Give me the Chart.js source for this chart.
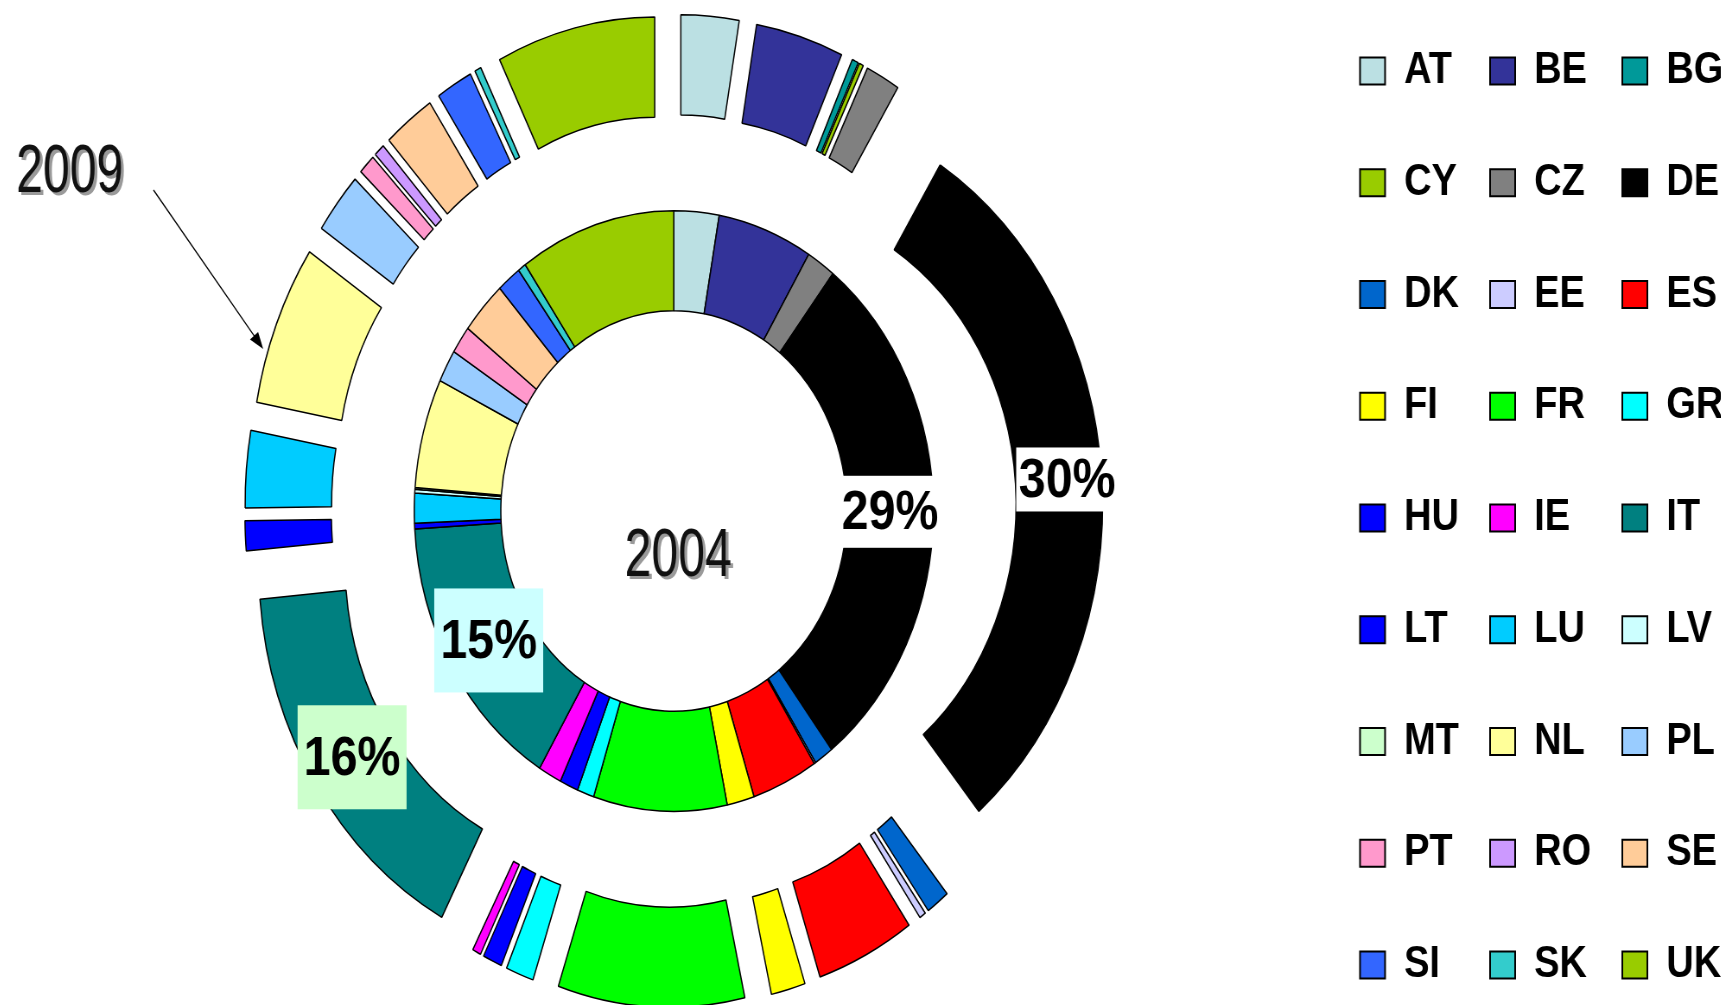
<!DOCTYPE html>
<html>
<head>
<meta charset="utf-8">
<title>2004 / 2009 shares</title>
<script src="https://cdn.jsdelivr.net/npm/chart.js@4.4.0/dist/chart.umd.min.js"></script>
<style>
  html, body { margin: 0; padding: 0; background: #fff; overflow: hidden; }
  #wrap { position: relative; width: 1721px; height: 1005px; overflow: hidden; background: #fff; }
  #chart { position: absolute; left: 4px; top: 0; }
</style>
</head>
<body>
<div id="wrap">
  <!-- the original picture is squashed horizontally, so the canvas is too (2000 -> 1728 px) -->
  <canvas id="chart" width="2000" height="1095" style="width:1728px;height:1095px"></canvas>
</div>
<script>
var countries = ['AT','BE','BG','CY','CZ','DE','DK','EE','ES','FI','FR','GR','HU','IE',
                 'IT','LT','LU','LV','MT','NL','PL','PT','RO','SE','SI','SK','UK'];
var colors = ['#BBE0E3','#333399','#009999','#99CC00','#808080','#000000','#0066CC','#CCCCFF',
              '#FF0000','#FFFF00','#00FF00','#00FFFF','#0000FF','#FF00FF','#008080','#0000FF',
              '#00CCFF','#CCFFFF','#CCFFCC','#FFFF99','#99CCFF','#FF99CC','#CC99FF','#FFCC99',
              '#3366FF','#33CCCC','#99CC00'];
// shares in %
var share2004 = [2.8, 5.9, 0, 0, 1.8, 29.1, 1.2, 0.1, 4.1, 1.7, 8.3, 1.05, 1.15, 1.45,
                 15.4, 0.3, 1.6, 0.2, 0.1, 5.9, 1.75, 1.5, 0, 2.9, 1.5, 0.5, 9.7];
var share2009 = [2.7, 4.1, 0.3, 0.2, 1.6, 30, 1.1, 0.3, 4.6, 1.6, 8.7, 1.3, 0.9, 0.4,
                 15.8, 1.2, 3.1, 0, 0, 6.5, 2.5, 0.8, 0.5, 2.4, 1.7, 0.3, 7.4];
var years = ['2009', '2004'];
var labelled = ['DE', 'IT'];

// label box look, per ring
var boxStyle = {
  '2009': { DE: { fill: '#FFFFFF', padX: 3, padY: 4, dr: 10 }, IT: { fill: '#CCFFCC', padX: 7, padY: 24, dr: 0 } },
  '2004': { DE: { fill: '#FFFFFF', padX: 3, padY: 8, dr: 0 },  IT: { fill: '#CCFFFF', padX: 7, padY: 24, dr: 0 } }
};

var explode = 384;   // arc offset of the outer ring (chart.js moves arcs by offset/4)

// legend reads row by row, chart.js fills columns -> reorder
function gridKey(i) { return (i % 3) * 9 + Math.floor(i / 3); }

// chart.js v4 also grows small exploded arcs; undo that so every slice moves the same way
var evenExplode = {
  id: 'evenExplode',
  afterDatasetUpdate: function (chart, args) {
    if (args.index !== 0) return;
    args.meta.data.forEach(function (arc) {
      var t = (arc.options.offset || 0) / 4;
      var ro = t * (1 - Math.sin(Math.min(Math.PI, arc.circumference)));
      var d = ro / (2 * Math.PI * arc.outerRadius);
      arc.innerRadius -= ro;
      arc.outerRadius -= ro;
      arc.startAngle -= d;
      arc.endAngle += d;
    });
  }
};

function narrowText(ctx, text, x, y, size) {
  ctx.save();
  ctx.translate(x, y);
  ctx.scale(0.82, 1);
  ctx.font = size + "px 'Liberation Sans', Arial, sans-serif";
  ctx.textAlign = 'center';
  ctx.textBaseline = 'middle';
  ctx.fillStyle = '#9a9a9a';
  ctx.fillText(text, 4, 3);
  ctx.fillStyle = '#111';
  ctx.fillText(text, 0, 0);
  ctx.restore();
}

var annotate = {
  id: 'annotate',
  afterDraw: function (chart) {
    var ctx = chart.ctx;
    var first = chart.getDatasetMeta(1).data[0];
    var cx = first.x, cy = first.y;

    // percentage labels on DE and IT
    [0, 1].forEach(function (ds) {
      var meta = chart.getDatasetMeta(ds);
      var ctrl = meta.controller;
      var data = chart.data.datasets[ds].data;
      var total = data.reduce(function (a, b) { return a + b; }, 0);
      var push = ds === 0 ? explode / 4 : 0;
      var rMid = (ctrl.innerRadius + ctrl.outerRadius) / 2 + push;
      labelled.forEach(function (c) {
        var i = countries.indexOf(c);
        var arc = meta.data[i];
        var st = boxStyle[years[ds]][c];
        var mid = (arc.startAngle + arc.endAngle) / 2;
        var x = cx + Math.cos(mid) * (rMid + st.dr);
        var y = cy + Math.sin(mid) * (rMid + st.dr);
        var txt = Math.round(data[i] / total * 100) + '%';
        ctx.save();
        ctx.font = "bold 56px 'Liberation Sans', Arial, sans-serif";
        var w = ctx.measureText(txt).width + 2 * st.padX;
        var h = 56 + 2 * st.padY;
        ctx.fillStyle = st.fill;
        ctx.fillRect(x - w / 2, y - h / 2, w, h);
        ctx.fillStyle = '#000';
        ctx.textAlign = 'center';
        ctx.textBaseline = 'middle';
        ctx.fillText(txt, x, y + 2);
        ctx.restore();
      });
    });

    // ring captions
    narrowText(ctx, years[1], cx + 5, cy + 46, 68);
    narrowText(ctx, years[0], 76, 173, 68);

    // arrow from "2009" to the outer ring
    var x1 = 173, y1 = 190, x2 = 300, y2 = 349;
    var a = Math.atan2(y2 - y1, x2 - x1);
    ctx.save();
    ctx.strokeStyle = '#000';
    ctx.fillStyle = '#000';
    ctx.lineWidth = 1.3;
    ctx.beginPath();
    ctx.moveTo(x1, y1);
    ctx.lineTo(x2 - 10 * Math.cos(a), y2 - 10 * Math.sin(a));
    ctx.stroke();
    ctx.beginPath();
    ctx.moveTo(x2, y2);
    ctx.lineTo(x2 - 17 * Math.cos(a) + 6 * Math.sin(a), y2 - 17 * Math.sin(a) - 6 * Math.cos(a));
    ctx.lineTo(x2 - 17 * Math.cos(a) - 6 * Math.sin(a), y2 - 17 * Math.sin(a) + 6 * Math.cos(a));
    ctx.closePath();
    ctx.fill();
    ctx.restore();
  }
};

new Chart('chart', {
  type: 'doughnut',
  data: {
    labels: countries,
    datasets: [
      {
        label: years[0],
        data: share2009,
        backgroundColor: colors,
        borderColor: '#000',
        borderWidth: 1.5,
        offset: explode,
        hoverOffset: 0
      },
      {
        label: years[1],
        data: share2004,
        backgroundColor: colors,
        borderColor: '#000',
        borderWidth: 1.5,
        offset: 0,
        hoverOffset: 0
      }
    ]
  },
  options: {
    responsive: false,
    animation: false,
    devicePixelRatio: 1,
    events: [],
    radius: 400.5,
    cutout: '50%',
    layout: { padding: { left: 17, right: 0, top: 13, bottom: 0 } },
    plugins: {
      tooltip: { enabled: false },
      // empty spacer under the rings so they sit where the original has them
      title: { display: true, position: 'bottom', fullSize: false, text: '', padding: 0,
               font: { size: 86, lineHeight: 1 } },
      legend: {
        position: 'right',
        align: 'start',
        labels: {
          boxWidth: 29,
          boxHeight: 27,
          padding: 36,
          color: '#000',
          font: { family: "'Liberation Sans', Arial, sans-serif", size: 44, weight: 'bold', lineHeight: 75.75 / 44 },
          generateLabels: function (chart) {
            var items = Chart.overrides.doughnut.plugins.legend.labels.generateLabels(chart);
            return items.map(function (it) {
              it.text = [it.text];
              it.lineWidth = 2;
              it.strokeStyle = '#000';
              return it;
            });
          },
          sort: function (a, b) { return gridKey(a.index) - gridKey(b.index); }
        }
      }
    }
  },
  plugins: [evenExplode, annotate]
});
</script>
</body>
</html>
